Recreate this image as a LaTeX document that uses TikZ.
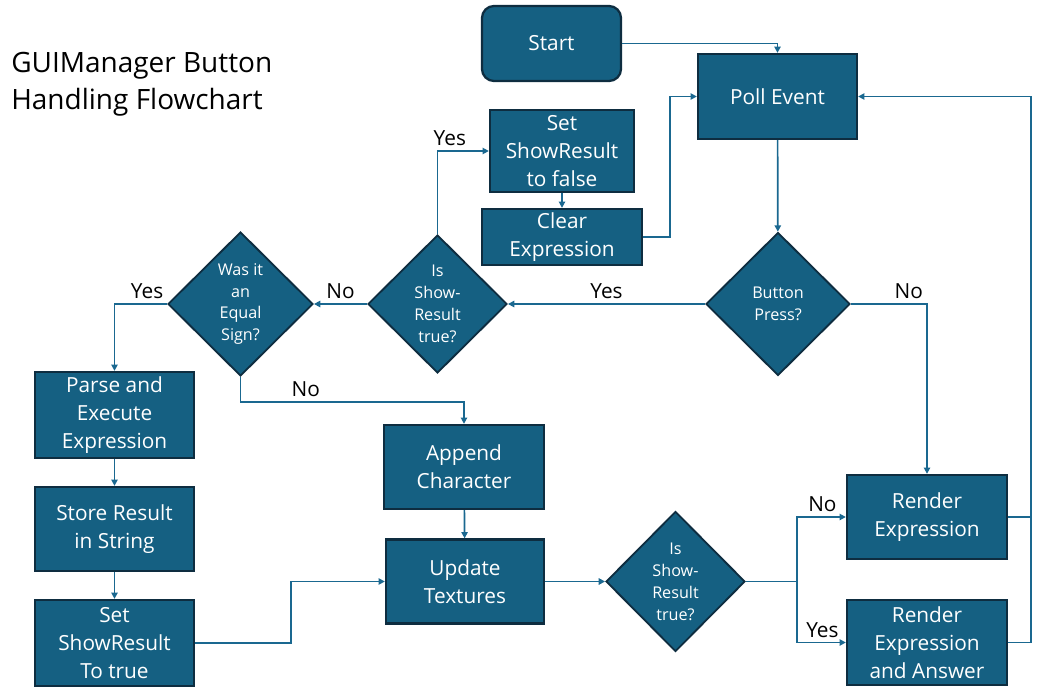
\documentclass[tikz,border=0pt]{standalone}
\usepackage{fontspec}
\setmainfont{Open Sans}
\usetikzlibrary{shapes.geometric, arrows.meta, positioning}
\definecolor{flowfill}{HTML}{156082}
\definecolor{flowedge}{HTML}{0E2D40}
\definecolor{flowlink}{HTML}{1A6890}

\begin{document}
\begin{tikzpicture}[x=0.025cm, y=-0.025cm,
  box/.style={rectangle, draw=flowedge, line width=1.6pt, fill=flowfill, text=white, align=center, inner sep=0pt, font=\fontsize{14.8}{19.9}\selectfont},
  decision/.style={diamond, aspect=1, draw=flowedge, line width=1.3pt, fill=flowfill, text=white, align=center, inner sep=0pt, font=\fontsize{11.5}{15.6}\selectfont},
  link/.style={draw=flowlink, line width=1.2pt, -{Triangle[length=4.5pt,width=4.5pt]}},
  tag/.style={font=\fontsize{14.8}{18}\selectfont, text=black, inner sep=1pt}]
\useasboundingbox (0,0) rectangle (1058,696);

% title
\node[anchor=north west, align=left, inner sep=0pt, font=\fontsize{19.9}{26.5}\selectfont] (title) at (11,52) {GUIManager Button\\Handling Flowchart};

% boxes
\node[box, rounded corners=0.3cm, minimum width=3.475cm, minimum height=1.875cm] (start) at (551.5,43.5) {Start};
\node[box, minimum width=3.975cm, minimum height=2.125cm] (poll) at (777.5,96.5) {Poll Event};
\node[box, minimum width=3.6cm, minimum height=2.05cm] (setfalse) at (562,151) {Set\\ShowResult\\to false};
\node[box, minimum width=4cm, minimum height=1.4cm] (clear) at (562,237) {Clear\\Expression};
\node[box, minimum width=3.975cm, minimum height=2.15cm] (parse) at (114.5,415) {Parse and\\Execute\\Expression};
\node[box, minimum width=3.975cm, minimum height=2.1cm] (store) at (114.5,529) {Store Result\\in String};
\node[box, minimum width=3.975cm, minimum height=2.15cm] (settrue) at (114.5,643) {Set\\ShowResult\\To true};
\node[box, minimum width=4cm, minimum height=2.1cm] (append) at (464,467) {Append\\Character};
\node[box, minimum width=3.95cm, minimum height=2.1cm] (update) at (465,581.5) {Update\\Textures};
\node[box, minimum width=4cm, minimum height=2.1cm] (render) at (927,517) {Render\\Expression};
\node[box, minimum width=4cm, minimum height=2.125cm] (renderans) at (927,642.5) {Render\\Expression\\and Answer};

% decisions
\node[decision, minimum width=3.6cm, minimum height=3.575cm] (press) at (778,304) {Button\\Press?};
\node[decision, minimum width=3.475cm, minimum height=3.45cm] (isshowA) at (437.5,304) {Is\\Show-\\Result\\true?};
\node[decision, minimum width=3.625cm, minimum height=3.6cm] (equal) at (240.5,304) {Was it\\an\\Equal\\Sign?};
\node[decision, minimum width=3.475cm, minimum height=3.5cm] (isshowB) at (675.5,581.5) {Is\\Show-\\Result\\true?};

% connectors
\draw[link] (start.east) -| (poll.north);
\draw[link] (poll) -- (press);
\draw[link] (press.west) -- node[tag, above=2pt] {Yes} (isshowA.east);
\draw[link] (press.east) -| node[tag, above=2pt, pos=0.38] {No} (render.north);
\draw[link] (isshowA.north) |- node[tag, above=2pt, pos=0.62] {Yes} (setfalse.west);
\draw[link] (setfalse) -- (clear);
\draw[link] (clear.east) -- ++(27,0) |- (poll.west);
\draw[link] (isshowA.west) -- node[tag, above=2pt] {No} (equal.east);
\draw[link] (equal.west) -| node[tag, above=2pt, pos=0.19] {Yes} (parse.north);
\draw[link] (equal.south) -- ++(0,25) -| node[tag, above=2pt, pos=0.146] {No} (append.north);
\draw[link] (parse) -- (store);
\draw[link] (store) -- (settrue);
\draw[link] (settrue.east) -- ++(96,0) |- (update.west);
\draw[link] (append) -- (update);
\draw[link] (update) -- (isshowB);
\draw[link] (isshowB.east) -- ++(51,0) coordinate (split) |- node[tag, above=2pt, pos=0.76] {No} (render.west);
\draw[link] (split) |- node[tag, above=2pt, pos=0.76] {Yes} (renderans.west);
\draw[link, -] (render.east) -- ++(23,0);
\draw[link] (renderans.east) -- ++(23,0) |- (poll.east);
\end{tikzpicture}
\end{document}
